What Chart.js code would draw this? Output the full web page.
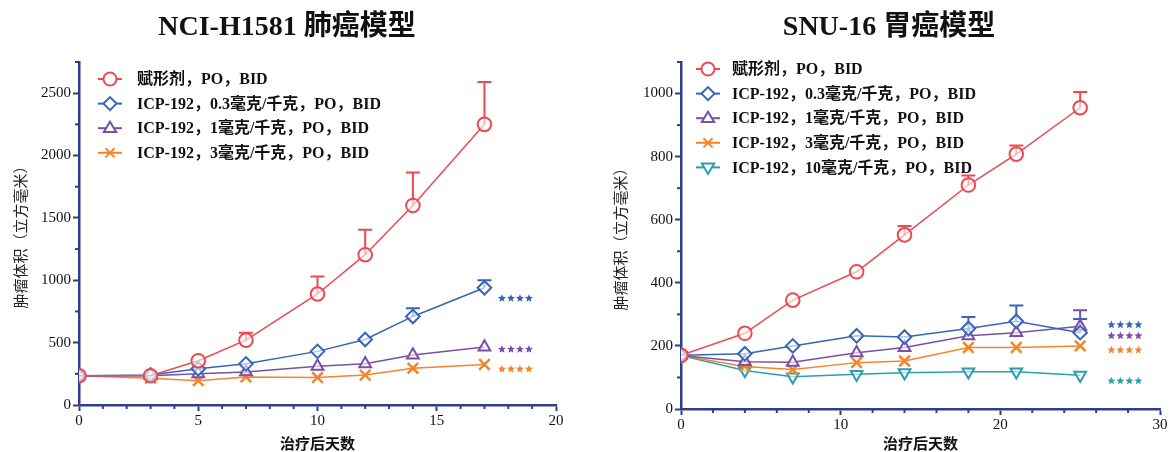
<!DOCTYPE html>
<html>
<head>
<meta charset="utf-8">
<script src="https://cdn.jsdelivr.net/npm/chart.js@4.4.0/dist/chart.umd.min.js"></script>
<style>
  body { margin: 0; background: #fff; width: 1173px; height: 452px; overflow: hidden; position: relative; }
  canvas { position: absolute; top: 0; }
  #lung { left: 0; }
  #gastric { left: 600px; }
</style>
</head>
<body>
<canvas id="lung" width="590" height="452"></canvas>
<canvas id="gastric" width="573" height="452"></canvas>
<script>
// 图例文字
const seriesNames = [
  '赋形剂，PO，BID',
  'ICP-192，0.3毫克/千克，PO，BID',
  'ICP-192，1毫克/千克，PO，BID',
  'ICP-192，3毫克/千克，PO，BID',
  'ICP-192，10毫克/千克，PO，BID'
];

// 左图：NCI-H1581 肺癌模型
const lungDays = [0, 3, 5, 7, 10, 12, 14, 17];
const lungVehicle = [235, 235, 355, 520, 890, 1205, 1600, 2250];
const lungVehicleErr = [0, 0, 20, 60, 140, 200, 265, 340];
const lungDose03 = [235, 240, 290, 330, 430, 525, 710, 940];
const lungDose03Err = [0, 5, 10, 15, 35, 25, 65, 60];
const lungDose1 = [235, 235, 250, 265, 310, 330, 400, 465];
const lungDose1Err = [0, 5, 10, 10, 20, 35, 30, 45];
const lungDose3 = [235, 215, 195, 225, 220, 240, 295, 325];
const lungDose3Err = [0, 5, 10, 10, 10, 15, 25, 40];
const lungStars = [855, 447, 288];
const lungXTicks = [0, 5, 10, 15, 20];
const lungYTicks = [0, 500, 1000, 1500, 2000, 2500];

// 右图：SNU-16 胃癌模型
const gastricDays = [0, 4, 7, 11, 14, 18, 21, 25];
const gastricVehicle = [170, 240, 345, 435, 552, 710, 808, 955];
const gastricVehicleErr = [5, 5, 5, 8, 28, 30, 27, 50];
const gastricDose03 = [170, 175, 200, 232, 228, 255, 278, 242];
const gastricDose03Err = [5, 5, 5, 13, 20, 37, 50, 43];
const gastricDose1 = [170, 150, 148, 178, 195, 232, 242, 262];
const gastricDose1Err = [5, 5, 5, 14, 10, 20, 15, 51];
const gastricDose3 = [170, 135, 125, 147, 152, 195, 195, 200];
const gastricDose3Err = [5, 5, 5, 8, 13, 15, 10, 10];
const gastricDose10 = [170, 122, 102, 110, 115, 118, 118, 107];
const gastricDose10Err = [5, 3, 3, 3, 3, 3, 3, 3];
const gastricStars = [267, 232, 187, 89];
const gastricXTicks = [0, 10, 20, 30];
const gastricYTicks = [0, 200, 400, 600, 800, 1000];

const colors = ['#ec4a50', '#3565b5', '#7b4fa6', '#f5852b', '#28a0b0'];
const shapes = ['circle', 'rectRot', 'triangle', 'crossRot', 'triangleDown'];
const axisColor = '#2f3d8c';
const tickFont = { family: "'Liberation Serif', 'Times New Roman', serif", size: 15 };

function makeSeries(days, values, errs, i) {
  return {
    label: seriesNames[i],
    data: days.map((d, k) => ({ x: d, y: values[k] })),
    err: errs,
    borderColor: colors[i],
    backgroundColor: '#fff',
    borderWidth: 1.5,
    pointStyle: shapes[i] === 'triangleDown' ? 'triangle' : shapes[i],
    pointRotation: shapes[i] === 'triangleDown' ? 180 : 0,
    pointRadius: shapes[i] === 'crossRot' ? 7.5 : 6.8,
    pointBorderWidth: shapes[i] === 'crossRot' ? 2.5 : 2,
    pointBackgroundColor: 'rgba(255,255,255,0.6)',
    tension: 0
  };
}

// 标记（图例用）
function drawMarker(ctx, shape, x, y, r) {
  ctx.beginPath();
  if (shape === 'circle') {
    ctx.arc(x, y, r, 0, Math.PI * 2);
  } else if (shape === 'rectRot') {
    ctx.moveTo(x, y - r); ctx.lineTo(x + r, y); ctx.lineTo(x, y + r); ctx.lineTo(x - r, y); ctx.closePath();
  } else if (shape === 'triangle') {
    ctx.moveTo(x, y - r); ctx.lineTo(x + r * 0.95, y + r * 0.6); ctx.lineTo(x - r * 0.95, y + r * 0.6); ctx.closePath();
  } else if (shape === 'triangleDown') {
    ctx.moveTo(x, y + r); ctx.lineTo(x + r * 0.95, y - r * 0.6); ctx.lineTo(x - r * 0.95, y - r * 0.6); ctx.closePath();
  } else if (shape === 'crossRot') {
    const d = r * 0.7;
    ctx.moveTo(x - d, y - d); ctx.lineTo(x + d, y + d);
    ctx.moveTo(x + d, y - d); ctx.lineTo(x - d, y + d);
  }
  if (shape !== 'crossRot') { ctx.fillStyle = '#fff'; ctx.fill(); }
  ctx.stroke();
}

function drawStar(ctx, x, y, r) {
  ctx.beginPath();
  for (let i = 0; i < 10; i++) {
    const a = -Math.PI / 2 + i * Math.PI / 5;
    const rr = i % 2 === 0 ? r : r * 0.45;
    ctx.lineTo(x + rr * Math.cos(a), y + rr * Math.sin(a));
  }
  ctx.closePath();
  ctx.fill();
}

// 误差线、短刻度、标题、图例、星号
const extras = {
  id: 'extras',
  beforeDatasetsDraw(chart) {
    const ctx = chart.ctx, xs = chart.scales.x, ys = chart.scales.y;
    ctx.save();
    chart.data.datasets.forEach(ds => {
      ctx.strokeStyle = ds.borderColor;
      ctx.lineWidth = 2;
      ds.data.forEach((p, k) => {
        const e = ds.err[k];
        if (!e) return;
        const px = xs.getPixelForValue(p.x);
        const y0 = ys.getPixelForValue(p.y);
        const y1 = ys.getPixelForValue(p.y + e);
        if (y0 - y1 < 7) return;
        ctx.beginPath();
        ctx.moveTo(px, y0); ctx.lineTo(px, y1);
        ctx.moveTo(px - 7, y1); ctx.lineTo(px + 7, y1);
        ctx.stroke();
      });
    });
    ctx.restore();
  },
  afterDraw(chart, args, opts) {
    const ctx = chart.ctx, xs = chart.scales.x, ys = chart.scales.y;
    const area = chart.chartArea;
    ctx.save();
    // 短刻度
    ctx.strokeStyle = axisColor;
    ctx.lineWidth = 2;
    for (let v = 0; v <= xs.max; v += opts.xMinor) {
      if (v % opts.xMajor === 0) continue;
      const px = xs.getPixelForValue(v);
      ctx.beginPath(); ctx.moveTo(px, area.bottom); ctx.lineTo(px, area.bottom + 4); ctx.stroke();
    }
    for (let v = 0; v <= ys.max; v += opts.yMinor) {
      if (v % opts.yMajor === 0) continue;
      const py = ys.getPixelForValue(v);
      ctx.beginPath(); ctx.moveTo(area.left, py); ctx.lineTo(area.left - 4, py); ctx.stroke();
    }
    // 标题
    ctx.fillStyle = '#111';
    ctx.font = "bold 28px 'Liberation Serif', 'Noto Sans CJK SC', serif";
    ctx.textAlign = 'center';
    ctx.textBaseline = 'alphabetic';
    ctx.fillText(opts.title, opts.titleX, 35);
    // 图例
    ctx.font = "bold 16px 'Liberation Serif', 'Noto Sans CJK SC', serif";
    ctx.textAlign = 'left';
    ctx.textBaseline = 'middle';
    chart.data.datasets.forEach((ds, i) => {
      const y = opts.legendY + i * 24.6;
      const x = opts.legendX;
      ctx.strokeStyle = ds.borderColor;
      ctx.lineWidth = 2;
      ctx.beginPath(); ctx.moveTo(x, y); ctx.lineTo(x + 24, y); ctx.stroke();
      drawMarker(ctx, shapes[i], x + 12, y, 6.5);
      ctx.fillStyle = '#111';
      ctx.fillText(ds.label, x + opts.legendGap, y + 1);
    });
    // 星号
    opts.stars.forEach((v, i) => {
      ctx.fillStyle = colors[i + 1];
      const px = xs.getPixelForValue(opts.starX);
      const py = ys.getPixelForValue(v);
      for (let k = 0; k < 4; k++) drawStar(ctx, px - 13.5 + k * 9, py, 4.2);
    });
    ctx.restore();
  }
};

function makeChart(id, datasets, cfg) {
  return new Chart(document.getElementById(id), {
    type: 'line',
    data: { datasets },
    plugins: [extras],
    options: {
      responsive: false,
      animation: false,
      devicePixelRatio: 1,
      layout: { padding: { top: 62, right: cfg.padRight, left: 0, bottom: 0 } },
      plugins: {
        legend: { display: false },
        tooltip: { enabled: false },
        extras: cfg.extras
      },
      scales: {
        x: {
          type: 'linear',
          min: 0,
          max: cfg.xMax,
          afterFit: s => { s.height = cfg.xAxisHeight; },
          afterBuildTicks: s => { s.ticks = cfg.xTicks.map(v => ({ value: v })); },
          ticks: {
            color: '#111',
            font: tickFont,
            padding: 1,
            maxRotation: 0,
            autoSkip: false,
            callback: v => String(v)
          },
          grid: { drawOnChartArea: false, color: axisColor, tickLength: 6, tickWidth: 2, tickColor: axisColor },
          border: { color: axisColor, width: 2.5 },
          title: {
            display: true,
            text: '治疗后天数',
            color: '#111',
            font: { family: "'Noto Sans CJK SC', sans-serif", size: 15, weight: 'bold' },
            padding: { top: 0, bottom: 0 }
          }
        },
        y: {
          min: 0,
          max: cfg.yMax,
          afterFit: s => { s.width = cfg.yAxisWidth; },
          afterBuildTicks: s => { s.ticks = cfg.yTicks.map(v => ({ value: v })); },
          ticks: {
            color: '#111',
            font: tickFont,
            padding: 2,
            autoSkip: false,
            callback: v => String(v)
          },
          grid: { drawOnChartArea: false, color: axisColor, tickLength: 6, tickWidth: 2, tickColor: axisColor },
          border: { color: axisColor, width: 2.5 },
          title: {
            display: true,
            text: '肿瘤体积（立方毫米）',
            color: '#222',
            font: { family: "'Noto Sans CJK SC', sans-serif", size: 15 },
            padding: { top: 11, bottom: 0 }
          }
        }
      }
    }
  });
}

makeChart('lung', [
  makeSeries(lungDays, lungVehicle, lungVehicleErr, 0),
  makeSeries(lungDays, lungDose03, lungDose03Err, 1),
  makeSeries(lungDays, lungDose1, lungDose1Err, 2),
  makeSeries(lungDays, lungDose3, lungDose3Err, 3)
], {
  xMax: 20, yMax: 2750, xTicks: lungXTicks, yTicks: lungYTicks,
  padRight: 34, xAxisHeight: 47, yAxisWidth: 79,
  extras: {
    title: 'NCI-H1581 肺癌模型', titleX: 287,
    legendX: 98, legendY: 79, legendGap: 39,
    xMinor: 1, xMajor: 5, yMinor: 250, yMajor: 500,
    starX: 18.3, stars: lungStars
  }
});

makeChart('gastric', [
  makeSeries(gastricDays, gastricVehicle, gastricVehicleErr, 0),
  makeSeries(gastricDays, gastricDose03, gastricDose03Err, 1),
  makeSeries(gastricDays, gastricDose1, gastricDose1Err, 2),
  makeSeries(gastricDays, gastricDose3, gastricDose3Err, 3),
  makeSeries(gastricDays, gastricDose10, gastricDose10Err, 4)
], {
  xMax: 30, yMax: 1100, xTicks: gastricXTicks, yTicks: gastricYTicks,
  padRight: 13, xAxisHeight: 43, yAxisWidth: 81,
  extras: {
    title: 'SNU-16 胃癌模型', titleX: 289,
    legendX: 96, legendY: 69, legendGap: 36,
    xMinor: 2, xMajor: 10, yMinor: 100, yMajor: 200,
    starX: 27.8, stars: gastricStars
  }
});
</script>
</body>
</html>
